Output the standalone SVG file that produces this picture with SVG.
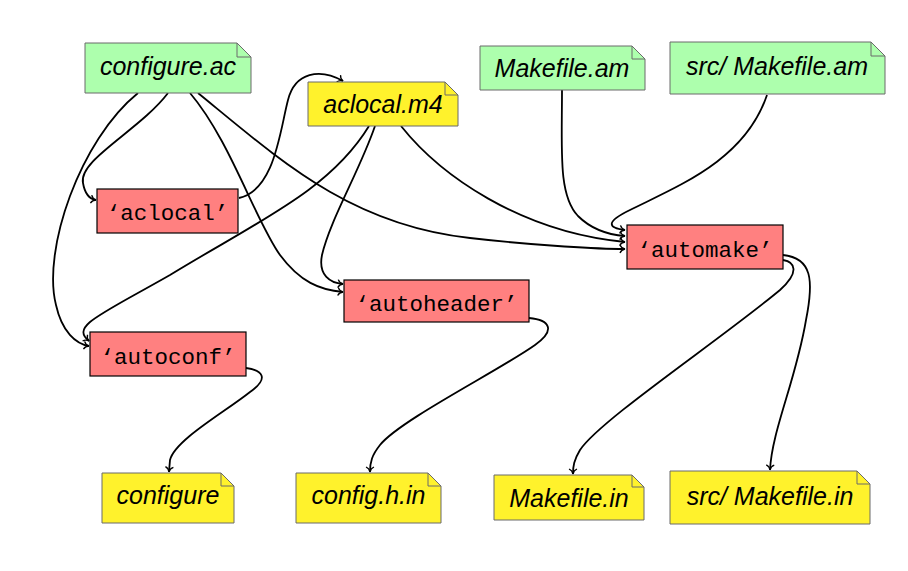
<svg xmlns="http://www.w3.org/2000/svg" width="908" height="571" viewBox="0 0 908 571">
<defs>
<style>
.src{fill:#adffad;stroke:#6a6a6a;stroke-width:1}
.gen{fill:#fff22c;stroke:#6a6a6a;stroke-width:1}
.fold{fill:none;stroke:#6a6a6a;stroke-width:1}
.tool{fill:#ff8080;stroke:#000;stroke-width:1.2}
.it{font-family:"Liberation Sans",Arial,sans-serif;font-style:italic;font-size:25px;fill:#000;text-anchor:middle}
.tt{font-family:"Liberation Mono","Courier New",monospace;font-size:22.5px;fill:#000;text-anchor:middle}
.edge{fill:none;stroke:#000;stroke-width:1.8;marker-end:url(#arr)}
</style>
<marker id="arr" viewBox="-6 -5 8 10" markerWidth="8" markerHeight="10" refX="0" refY="0" orient="auto" markerUnits="userSpaceOnUse">
<path d="M-5,-4 C-4,-1.5 -1.5,-0.3 0,0 C-1.5,0.3 -4,1.5 -5,4" fill="none" stroke="#000" stroke-width="1.3"/>
</marker>
</defs>
<rect width="908" height="571" fill="#fff"/>
<g id="connectors">
<path class="edge" d="M138,93 C80,140 42,250 56,305 C62,332 76,344 89,346"/>
<path class="edge" d="M168,93 C140,130 78,160 83,183 C85,195 90,199 96,200"/>
<path class="edge" d="M190,93 C230,140 255,220 280,255 C300,282 320,290 343,292"/>
<path class="edge" d="M198,93 C280,160 350,225 470,238 C540,246 600,249 625,249"/>
<path class="edge" d="M369,126 C330,190 260,220 170,275 C100,315 70,326 89,341"/>
<path class="edge" d="M375,126 C360,170 330,220 322,255 C318,275 330,283 343,284"/>
<path class="edge" d="M401,126 C440,175 520,232 625,242"/>
<path class="edge" d="M239,198 C275,190 280,130 288,100 C295,72 320,68 343,81"/>
<path class="edge" d="M562,90 C562,150 558,195 578,216 C593,231 612,235 625,236"/>
<path class="edge" d="M767,95 C745,160 680,185 630,210 C605,222 608,228 625,230"/>
<path class="edge" d="M529,318 C550,320 556,330 535,345 C500,370 400,420 380,445 C372,455 370,462 370,472"/>
<path class="edge" d="M246,368 C262,370 270,378 250,392 C225,412 175,440 170,460 L169,472"/>
<path class="edge" d="M783,260 C795,262 800,272 780,290 C720,340 600,420 580,450 C574,460 573,466 573,474"/>
<path class="edge" d="M783,255 C812,258 814,280 806,320 C796,380 772,430 770,470"/>
</g>
<g id="configure_ac">
<path class="src" d="M85,43 H237 L251,57 V93 H85 Z"/>
<path class="fold" d="M237,43 V57 H251"/>
<text class="it" x="168" y="75">configure.ac</text>
</g>
<g id="aclocal_m4">
<path class="gen" d="M308,82 H445 L458,95 V126 H308 Z"/>
<path class="fold" d="M445,82 V95 H458"/>
<text class="it" x="383" y="113">aclocal.m4</text>
</g>
<g id="makefile_am">
<path class="src" d="M480,46 H632 L645,59 V90 H480 Z"/>
<path class="fold" d="M632,46 V59 H645"/>
<text class="it" x="562" y="77">Makefile.am</text>
</g>
<g id="src_makefile_am">
<path class="src" d="M670,42 H871 L885,56 V94 H670 Z"/>
<path class="fold" d="M871,42 V56 H885"/>
<text class="it" x="777" y="75">src/ Makefile.am</text>
</g>
<g id="aclocal">
<rect class="tool" x="97" y="189" width="141" height="44"/>
<text class="tt" x="167.5" y="220">‘aclocal’</text>
</g>
<g id="automake">
<rect class="tool" x="627" y="225" width="156" height="44"/>
<text class="tt" x="705" y="257">‘automake’</text>
</g>
<g id="autoheader">
<rect class="tool" x="344" y="280" width="185" height="42"/>
<text class="tt" x="436.5" y="311">‘autoheader’</text>
</g>
<g id="autoconf">
<rect class="tool" x="90" y="332" width="156" height="44"/>
<text class="tt" x="168" y="364">‘autoconf’</text>
</g>
<g id="configure">
<path class="gen" d="M102,473 H221 L234,486 V523 H102 Z"/>
<path class="fold" d="M221,473 V486 H234"/>
<text class="it" x="168" y="504">configure</text>
</g>
<g id="config_h_in">
<path class="gen" d="M296,473 H428 L441,486 V523 H296 Z"/>
<path class="fold" d="M428,473 V486 H441"/>
<text class="it" x="368.5" y="504">config.h.in</text>
</g>
<g id="makefile_in">
<path class="gen" d="M494,475 H632 L644,487 V520 H494 Z"/>
<path class="fold" d="M632,475 V487 H644"/>
<text class="it" x="569" y="507">Makefile.in</text>
</g>
<g id="src_makefile_in">
<path class="gen" d="M670,471 H857 L870,484 V524 H670 Z"/>
<path class="fold" d="M857,471 V484 H870"/>
<text class="it" x="770" y="505">src/ Makefile.in</text>
</g>
</svg>
